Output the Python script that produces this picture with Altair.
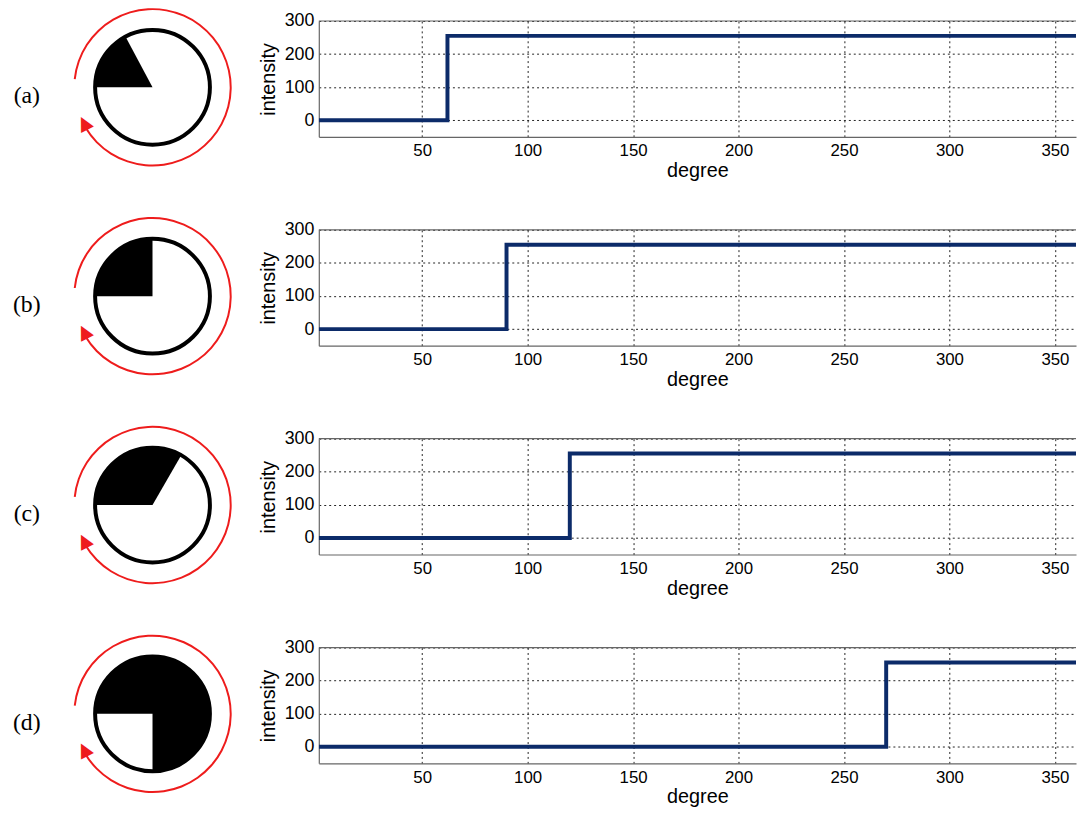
import math
import altair as alt
import pandas as pd

# ---- data ----
labels = ["(a)", "(b)", "(c)", "(d)"]
step_degree = [62, 90, 120, 270]          # where intensity jumps from 0 to 255
low_intensity = 0
high_intensity = 255
degree_start = 1
degree_end = 360
y_min, y_max = -50, 300
x_ticks = [50, 100, 150, 200, 250, 300, 350]
y_ticks = [0, 100, 200, 300]
arrow_start = 6      # red arrow arc, degrees clockwise from 9 o'clock
arrow_end = 329
arrow_head = 333

# ---- styling / layout ----
FONT = "Liberation Sans"
SERIF = "Liberation Serif"
NAVY = "#0c2b69"
RED = "#ee1c1c"
PLOT_W = 765
PLOT_H = 117
LEFT = 312                 # room left of plot for icon + label
CX = 152 - 8 - LEFT        # icon centre relative to plot origin
CY = 67
LABEL_X = 25 - 8 - LEFT
LABEL_Y = 76

# degree measured clockwise from 9 o'clock -> vega theta (clockwise from 12)
theta_scale = alt.Scale(domain=[0, 360],
                        range=[1.5 * math.pi, 3.5 * math.pi])

x_scale = alt.Scale(domain=[degree_start, degree_end], nice=False, zero=False)
y_scale = alt.Scale(domain=[y_min, y_max], nice=False, zero=False)
x_axis = alt.Axis(values=x_ticks, title="degree", grid=True,
                  labelFontSize=17, titleFontSize=20,
                  labelPadding=6, titlePadding=2)
y_axis = alt.Axis(values=y_ticks, title="intensity", grid=True,
                  labelFontSize=18, titleFontSize=20,
                  labelOverlap=False, labelBound=False,
                  labelPadding=5, titlePadding=6)


def row(i):
    s = step_degree[i]
    line_df = pd.DataFrame({
        "degree": [degree_start, s, degree_end],
        "intensity": [low_intensity, high_intensity, high_intensity],
    })
    line = alt.Chart(line_df).mark_line(
        interpolate="step-after", color=NAVY, strokeWidth=4, clip=True
    ).encode(
        x=alt.X("degree:Q", scale=x_scale, axis=x_axis),
        y=alt.Y("intensity:Q", scale=y_scale, axis=y_axis),
    )
    top_df = pd.DataFrame({"intensity": [y_max]})
    top = alt.Chart(top_df).mark_rule(color="#666", strokeWidth=1.2).encode(
        y=alt.Y("intensity:Q", scale=y_scale, axis=y_axis)
    )

    circ_df = pd.DataFrame({"a0": [0], "a1": [360]})
    sect_df = pd.DataFrame({"a0": [0], "a1": [s]})
    ring_df = pd.DataFrame({"a0": [arrow_start], "a1": [arrow_end]})
    head_df = pd.DataFrame({"a0": [arrow_head], "t": ["\u25B2"]})
    lab_df = pd.DataFrame({"t": [labels[i]]})

    pos = dict(x=alt.value(CX), y=alt.value(CY))
    circle = alt.Chart(circ_df).mark_arc(
        radius=58, fill="white", stroke="black", strokeWidth=4
    ).encode(theta=alt.Theta("a0:Q", scale=theta_scale, stack=None),
             theta2="a1:Q", **pos)
    sector = alt.Chart(sect_df).mark_arc(radius=58, fill="black").encode(
        theta=alt.Theta("a0:Q", scale=theta_scale, stack=None),
        theta2="a1:Q", **pos)
    ring = alt.Chart(ring_df).mark_arc(radius=80, radius2=78, fill=RED).encode(
        theta=alt.Theta("a0:Q", scale=theta_scale, stack=None),
        theta2="a1:Q", **pos)
    head = alt.Chart(head_df).mark_text(
        color=RED, fontSize=19, font="DejaVu Sans", angle=333,
        align="center", baseline="middle"
    ).encode(theta=alt.Theta("a0:Q", scale=theta_scale, stack=None),
             radius=alt.value(78), text="t:N", **pos)
    lab = alt.Chart(lab_df).mark_text(
        font=SERIF, fontSize=24, align="center", baseline="middle", color="black"
    ).encode(text="t:N", x=alt.value(LABEL_X), y=alt.value(LABEL_Y))

    return alt.layer(line, top, circle, sector, ring, head, lab).properties(
        width=PLOT_W, height=PLOT_H)


chart = alt.vconcat(*[row(i) for i in range(4)], spacing=94, bounds="flush").properties(
    padding={"left": 5, "top": -4, "right": 0, "bottom": 0}, background="white"
).configure_view(strokeWidth=0).configure_axis(
    labelFont=FONT, labelColor="black", labelFlush=False,
    titleFont=FONT, titleFontWeight="normal", titleColor="black",
    domainColor="#666", domainWidth=1.2, ticks=False,
    gridColor="#222", gridDash=[2, 3], gridWidth=1, gridOpacity=1,
)

chart.save("out.html", embed_options={"renderer": "svg", "actions": False})
